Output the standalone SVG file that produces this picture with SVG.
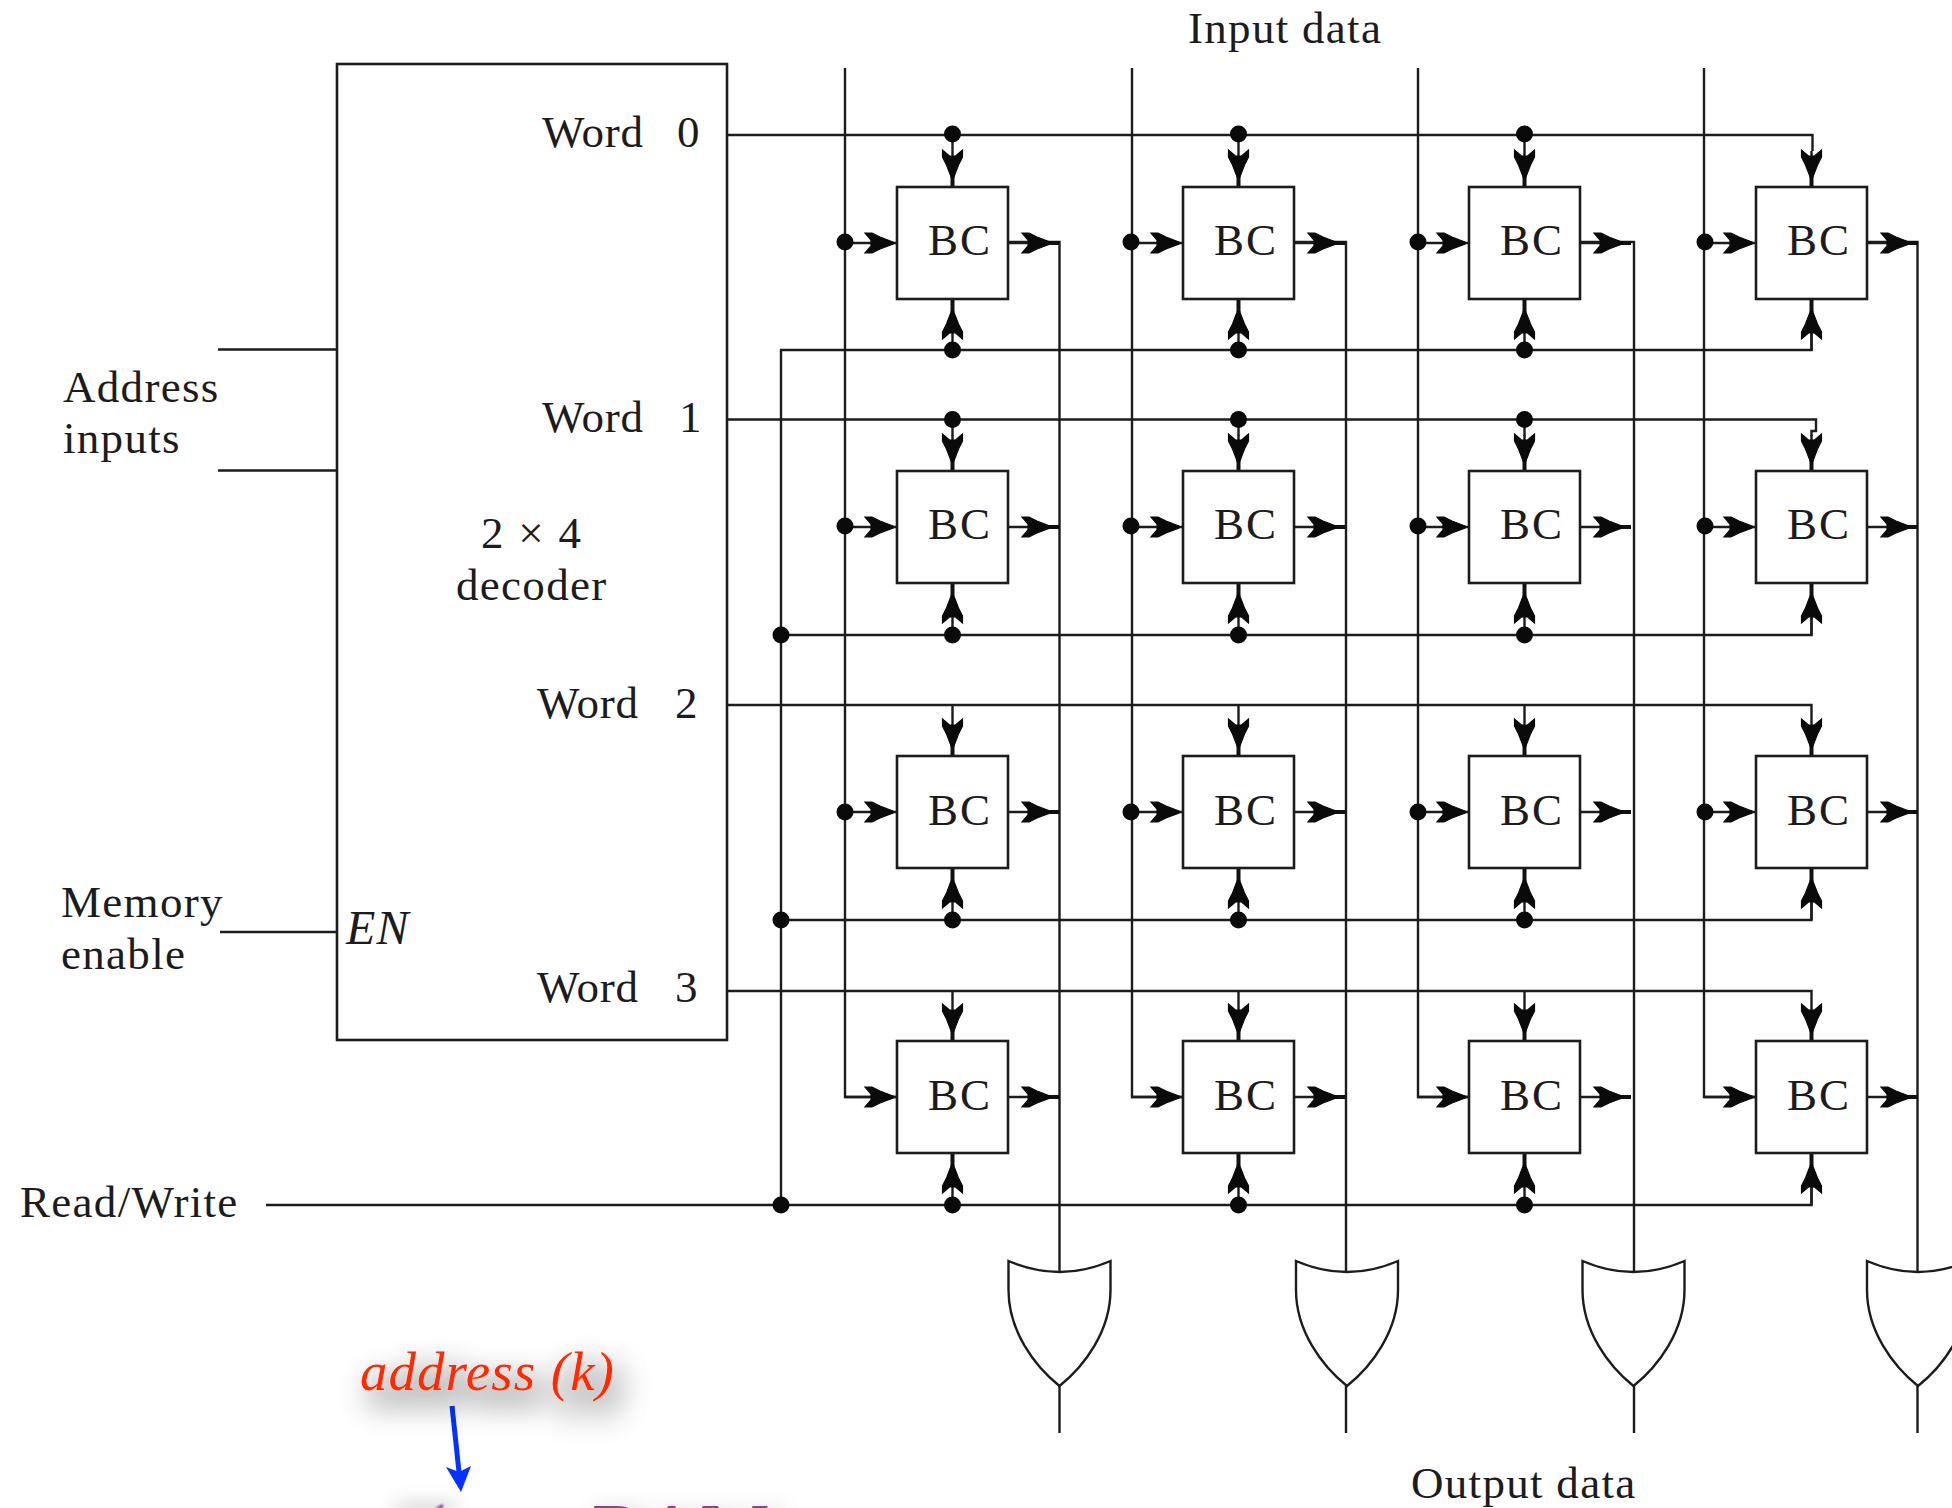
<svg xmlns="http://www.w3.org/2000/svg" xmlns:xlink="http://www.w3.org/1999/xlink" width="1952" height="1508" viewBox="0 0 1952 1508">
<style>
text{font-family:"Liberation Serif","Times New Roman",serif;font-size:45px;fill:#1c1c1c;letter-spacing:1.3px}
.wd{letter-spacing:.7px}
.it{font-style:italic;font-size:48px}
.bc{letter-spacing:2px}
.w{fill:none;stroke:#1c1c1c;stroke-width:2.4}
.thick{fill:none;stroke:#111;stroke-width:4}
.box{fill:#fff;stroke:#1c1c1c;stroke-width:2.6}
.or{fill:#fff;stroke:#1c1c1c;stroke-width:2.4}
.dot{fill:#0a0a0a}
.head{fill:#0a0a0a;stroke:#0a0a0a;stroke-width:1.2}
</style>
<defs>
<filter id="shadow" x="-30%" y="-80%" width="160%" height="300%">
<feMorphology in="SourceAlpha" operator="dilate" radius="4" result="d"/>
<feGaussianBlur in="d" stdDeviation="15" result="b"/>
<feOffset in="b" dx="8" dy="14" result="o"/>
<feComponentTransfer in="o" result="s"><feFuncA type="linear" slope=".27"/></feComponentTransfer>
<feMerge><feMergeNode in="s"/><feMergeNode in="SourceGraphic"/></feMerge>
</filter>
<filter id="soft" x="-100%" y="-100%" width="300%" height="300%"><feGaussianBlur stdDeviation="1"/></filter>
<filter id="softer" x="-100%" y="-200%" width="300%" height="500%"><feGaussianBlur stdDeviation="10"/></filter>
<path id="h" class="head" d="M0,-1L-13,-6L-21,-10L-28,-10L-22,-3L-22,3L-28,10L-21,10L-13,6L0,1Z"/>
<g id="arrows">
<path class="w" d="M55.5,-36V0M55.5,164V112M-52,56H0M111,56H162"/>
<path class="thick" d="M55.5,-15V0M55.5,112V125M140,56H162"/>
<use href="#h" transform="translate(55.5,-9) rotate(90)"/>
<use href="#h" transform="translate(55.5,124) rotate(-90)"/>
<use href="#h" transform="translate(-4,56)"/>
<use href="#h" transform="translate(153,56)"/>
</g>
<circle id="d" class="dot" r="8.5"/>
<path id="orShape" class="or" d="M-51,0Q0,22 51,0V29C51,70 25,105 0,125C-25,105 -51,70 -51,29Z"/>
<rect id="bcBox" class="box" width="111" height="112"/>
</defs>
<rect width="1952" height="1508" fill="#fff"/>

<g id="connectors">
<path class="w" d="M727,135H1812.5V151"/>
<path class="w" d="M727,419.5H1816V431H1811.5V436"/>
<path class="w" d="M727,705H1811.5V720"/>
<path class="w" d="M727,991H1811.5V1005"/>
<path class="w" d="M952.5,135V151M1238.5,135V151M1524.5,135V151M952.5,419.5V436M1238.5,419.5V436M1524.5,419.5V436M952.5,705V720M1238.5,705V720M1524.5,705V720M952.5,991V1005M1238.5,991V1005M1524.5,991V1005"/>
<path class="w" d="M266,1205H1811.5V1153M781,1205V350H1811.5V299M781,635H1811.5V583M781,920H1811.5V868"/>
<path class="w" d="M845,68V1097H897M1132,68V1097H1183M1418,68V1097H1469M1704,68V1097H1756"/>
<path class="w" d="M1008,242H1059.5V1272M1059.5,1386V1433M1295,242H1346V1272M1346,1386V1433M1581,242H1634V1272M1634,1386V1433M1867,242H1917.5V1272M1917.5,1386V1433"/>
<path class="w" d="M218,349.5H337M218,470.5H337M220,932H337"/>
<use href="#arrows" x="897" y="187"/><use href="#arrows" x="1183" y="187"/><use href="#arrows" x="1469" y="187"/><use href="#arrows" x="1756" y="187"/>
<use href="#arrows" x="897" y="471"/><use href="#arrows" x="1183" y="471"/><use href="#arrows" x="1469" y="471"/><use href="#arrows" x="1756" y="471"/>
<use href="#arrows" x="897" y="756"/><use href="#arrows" x="1183" y="756"/><use href="#arrows" x="1469" y="756"/><use href="#arrows" x="1756" y="756"/>
<use href="#arrows" x="897" y="1041"/><use href="#arrows" x="1183" y="1041"/><use href="#arrows" x="1469" y="1041"/><use href="#arrows" x="1756" y="1041"/>
<use href="#d" x="952.5" y="134"/><use href="#d" x="1238.5" y="134"/><use href="#d" x="1524.5" y="134"/>
<use href="#d" x="952.5" y="419.5"/><use href="#d" x="1238.5" y="419.5"/><use href="#d" x="1524.5" y="419.5"/>
<use href="#d" x="952.5" y="350"/><use href="#d" x="1238.5" y="350"/><use href="#d" x="1524.5" y="350"/>
<use href="#d" x="781" y="635"/><use href="#d" x="952.5" y="635"/><use href="#d" x="1238.5" y="635"/><use href="#d" x="1524.5" y="635"/>
<use href="#d" x="781" y="920"/><use href="#d" x="952.5" y="920"/><use href="#d" x="1238.5" y="920"/><use href="#d" x="1524.5" y="920"/>
<use href="#d" x="781" y="1205"/><use href="#d" x="952.5" y="1205"/><use href="#d" x="1238.5" y="1205"/><use href="#d" x="1524.5" y="1205"/>
<use href="#d" x="845" y="242"/><use href="#d" x="1131" y="242"/><use href="#d" x="1418" y="242"/><use href="#d" x="1705" y="242"/>
<use href="#d" x="845" y="526"/><use href="#d" x="1131" y="526"/><use href="#d" x="1418" y="526"/><use href="#d" x="1705" y="526"/>
<use href="#d" x="845" y="812"/><use href="#d" x="1131" y="812"/><use href="#d" x="1418" y="812"/><use href="#d" x="1705" y="812"/>
<path d="M452,1406L459,1472" fill="none" stroke="#0433ff" stroke-width="5"/>
<path d="M461,1492L446,1467L459,1472L471,1466Z" fill="#0433ff"/>
</g>

<g id="decoder">
<rect x="337" y="64" width="390" height="976" fill="none" stroke="#1c1c1c" stroke-width="2.6"/>
<text class="wd" x="542" y="147">Word</text><text x="677" y="147">0</text>
<text class="wd" x="542" y="432">Word</text><text x="679" y="432">1</text>
<text class="wd" x="537" y="718">Word</text><text x="675" y="718">2</text>
<text class="wd" x="537" y="1002">Word</text><text x="675" y="1002">3</text>
<text x="481" y="548" style="letter-spacing:1.8px">2 × 4</text>
<text x="456" y="600">decoder</text>
<text class="it" x="346" y="944">EN</text>
</g>

<g id="labels">
<text x="1188" y="43">Input data</text>
<text x="63" y="402">Address</text>
<text x="63" y="453">inputs</text>
<text x="61" y="917">Memory</text>
<text x="61" y="969">enable</text>
<text x="20" y="1217">Read/Write</text>
<text x="1411" y="1498">Output data</text>
</g>

<g id="bc-r0c0"><use href="#bcBox" x="897" y="187"/><text class="bc" x="928" y="255">BC</text></g>
<g id="bc-r0c1"><use href="#bcBox" x="1183" y="187"/><text class="bc" x="1214" y="255">BC</text></g>
<g id="bc-r0c2"><use href="#bcBox" x="1469" y="187"/><text class="bc" x="1500" y="255">BC</text></g>
<g id="bc-r0c3"><use href="#bcBox" x="1756" y="187"/><text class="bc" x="1787" y="255">BC</text></g>
<g id="bc-r1c0"><use href="#bcBox" x="897" y="471"/><text class="bc" x="928" y="539">BC</text></g>
<g id="bc-r1c1"><use href="#bcBox" x="1183" y="471"/><text class="bc" x="1214" y="539">BC</text></g>
<g id="bc-r1c2"><use href="#bcBox" x="1469" y="471"/><text class="bc" x="1500" y="539">BC</text></g>
<g id="bc-r1c3"><use href="#bcBox" x="1756" y="471"/><text class="bc" x="1787" y="539">BC</text></g>
<g id="bc-r2c0"><use href="#bcBox" x="897" y="756"/><text class="bc" x="928" y="825">BC</text></g>
<g id="bc-r2c1"><use href="#bcBox" x="1183" y="756"/><text class="bc" x="1214" y="825">BC</text></g>
<g id="bc-r2c2"><use href="#bcBox" x="1469" y="756"/><text class="bc" x="1500" y="825">BC</text></g>
<g id="bc-r2c3"><use href="#bcBox" x="1756" y="756"/><text class="bc" x="1787" y="825">BC</text></g>
<g id="bc-r3c0"><use href="#bcBox" x="897" y="1041"/><text class="bc" x="928" y="1110">BC</text></g>
<g id="bc-r3c1"><use href="#bcBox" x="1183" y="1041"/><text class="bc" x="1214" y="1110">BC</text></g>
<g id="bc-r3c2"><use href="#bcBox" x="1469" y="1041"/><text class="bc" x="1500" y="1110">BC</text></g>
<g id="bc-r3c3"><use href="#bcBox" x="1756" y="1041"/><text class="bc" x="1787" y="1110">BC</text></g>

<g id="or-0"><use href="#orShape" x="1059.5" y="1261"/></g>
<g id="or-1"><use href="#orShape" x="1347" y="1261"/></g>
<g id="or-2"><use href="#orShape" x="1633.5" y="1261"/></g>
<g id="or-3"><use href="#orShape" x="1918" y="1261"/></g>

<g id="annotation-address">
<text x="360" y="1390" filter="url(#shadow)" style="font-family:'Liberation Serif',serif;font-style:italic;font-size:55px;fill:#ff2a00;letter-spacing:1px">address (k)</text>
</g>
<g id="annotation-ram">
<rect x="395" y="1502" width="60" height="20" fill="#000" opacity=".15" filter="url(#softer)"/>
<path d="M435,1508L443,1504V1508Z" fill="#7a2a8c" filter="url(#soft)"/>
<text x="592" y="1557" filter="url(#shadow)" style="font-size:78px;fill:#8a3f9c;letter-spacing:0">RAM</text>
</g>
</svg>
